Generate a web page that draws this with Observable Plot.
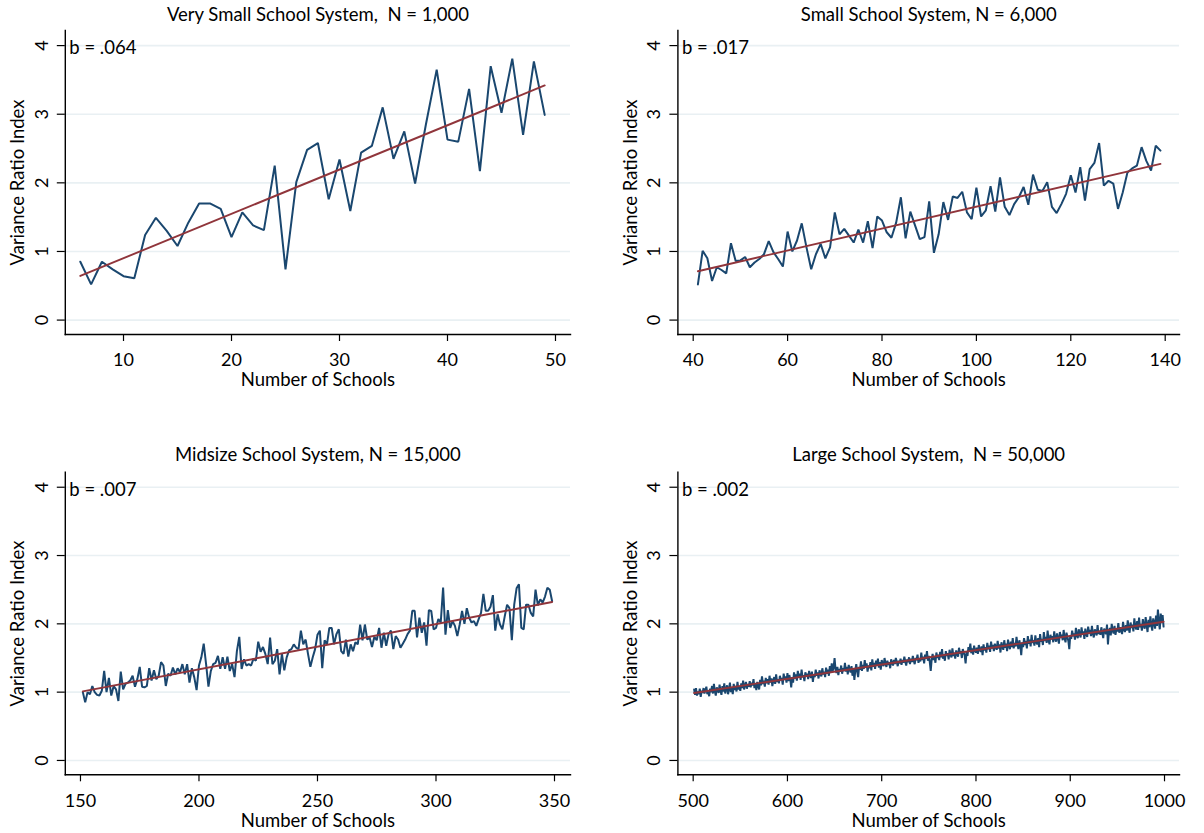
<!DOCTYPE html>
<html>
<head>
<meta charset="utf-8">
<script src="https://cdn.jsdelivr.net/npm/d3@7"></script>
<script src="https://cdn.jsdelivr.net/npm/@observablehq/plot@0.6"></script>
<style>
  html, body { margin: 0; padding: 0; background: #fff; }
  #wrap { position: relative; width: 1204px; height: 833px; overflow: hidden; font-family: Lato, "Open Sans", sans-serif; }
  #wrap > svg { position: absolute; }
</style>
</head>
<body>
<div id="wrap"></div>
<script>
// ---- Titles / labels ----
const titles = ["Very Small School System,  N = 1,000", "Small School System, N = 6,000", "Midsize School System, N = 15,000", "Large School System,  N = 50,000"];
const slopes = ["b = .064", "b = .017", "b = .007", "b = .002"];
const xLabel = "Number of Schools";
const yLabel = "Variance Ratio Index";
const yTicks = [0, 1, 2, 3, 4];
const xTicks1 = [10, 20, 30, 40, 50];
const xTicks2 = [40, 60, 80, 100, 120, 140];
const xTicks3 = [150, 200, 250, 300, 350];
const xTicks4 = [500, 600, 700, 800, 900, 1000];

// ---- Series values ----
const start1 = 6;
const vals1 = [0.85,0.52,0.85,0.74,0.64,0.61,1.24,1.49,1.30,1.08,1.42,1.70,1.70,1.62,1.21,1.57,1.38,1.31,2.25,0.74,2.01,2.48,2.58,1.76,2.34,1.59,2.44,2.54,3.10,2.35,2.75,1.99,2.85,3.65,2.63,2.60,3.37,2.17,3.70,3.02,3.81,2.70,3.77,2.99];

const start2 = 41;
const vals2 = [0.52,1.01,0.90,0.57,0.77,0.73,0.68,1.12,0.86,0.87,
  0.92,0.77,0.84,0.89,0.96,1.15,0.99,0.89,0.78,1.29,
  1.00,1.16,1.41,1.06,0.74,0.96,1.11,0.90,1.06,1.57,
  1.25,1.33,1.23,1.13,1.32,1.13,1.44,1.05,1.51,1.45,
  1.28,1.20,1.42,1.79,1.19,1.58,1.38,1.18,1.21,1.73,
  0.98,1.25,1.72,1.46,1.80,1.78,1.87,1.57,1.47,1.93,
  1.51,1.60,1.95,1.58,2.08,1.65,1.53,1.69,1.79,1.94,
  1.68,2.12,1.90,1.88,2.01,1.65,1.56,1.69,1.84,2.11,
  1.86,2.23,1.74,2.20,2.29,2.58,1.96,2.03,1.99,1.62,
  1.86,2.15,2.21,2.25,2.52,2.32,2.18,2.54,2.47];

const start3 = 151;
const vals3 = [1.00,0.85,1.00,0.97,1.09,1.00,0.96,0.95,1.02,1.31,
  1.00,1.21,0.95,1.09,1.04,0.87,1.30,1.04,1.12,1.14,
  1.17,1.24,1.08,1.19,1.37,1.08,1.07,1.09,1.35,1.17,
  1.32,1.19,1.24,1.44,1.39,1.09,1.27,1.24,1.36,1.26,
  1.35,1.29,1.41,1.26,1.41,1.14,1.35,1.22,1.03,1.39,
  1.51,1.71,1.41,1.08,1.31,1.41,1.43,1.53,1.34,1.51,
  1.34,1.52,1.31,1.41,1.22,1.60,1.81,1.34,1.48,1.39,
  1.41,1.39,1.49,1.46,1.74,1.59,1.66,1.56,1.41,1.80,
  1.41,1.46,1.63,1.26,1.56,1.32,1.51,1.61,1.63,1.70,
  1.65,1.63,1.90,1.70,1.77,1.56,1.37,1.51,1.63,1.84,
  1.90,1.35,1.76,1.70,1.94,1.94,1.70,1.85,1.92,1.60,
  1.56,1.77,1.52,1.70,1.60,1.73,1.70,1.99,1.76,1.99,
  1.77,1.80,1.66,1.81,1.76,1.94,1.65,1.87,1.68,1.85,
  1.90,1.63,1.82,1.77,1.65,1.71,1.77,1.85,1.90,2.19,
  2.19,1.80,2.09,1.87,2.02,1.68,2.20,2.19,1.92,1.94,
  2.07,2.02,2.53,1.84,2.20,1.94,2.04,1.97,1.82,1.99,
  2.19,2.00,2.23,2.09,2.02,2.04,1.97,2.07,2.16,2.44,
  2.19,2.19,2.25,2.42,1.90,2.14,1.99,1.92,2.11,2.28,
  2.23,1.76,2.28,2.52,2.58,1.94,1.92,2.28,2.28,2.16,
  2.11,2.50,2.27,2.36,2.31,2.40,2.53,2.50,2.33];

const start4 = 501;
const vals4 = [1.04,0.96,1.06,0.95,1.01,0.97,1.05,0.93,1.02,0.99,
  1.06,0.98,1.03,1.08,0.97,1.01,0.94,1.05,1.00,1.09,
  0.98,1.12,1.01,0.95,1.07,1.03,0.99,1.11,1.02,0.96,
  1.09,1.01,1.13,0.98,1.05,1.10,0.97,1.04,1.14,1.00,
  1.06,0.97,1.12,1.03,1.09,1.01,1.15,1.04,1.08,1.02,
  1.13,1.06,1.17,1.04,1.10,1.15,1.05,1.12,1.08,1.16,
  1.07,1.14,1.10,1.19,1.06,1.12,1.03,1.15,1.09,1.04,
  1.18,1.10,1.23,1.12,1.17,1.08,1.21,1.13,1.19,1.11,
  1.24,1.14,1.20,1.09,1.17,1.22,1.12,1.26,1.15,1.19,
  1.13,1.24,1.17,1.21,1.11,1.27,1.18,1.23,1.14,1.28,
  1.16,1.25,1.19,1.07,1.22,1.14,1.29,1.20,1.26,1.17,
  1.31,1.21,1.27,1.18,1.33,1.22,1.25,1.16,1.29,1.23,
  1.27,1.19,1.31,1.24,1.21,1.30,1.15,1.26,1.22,1.33,
  1.24,1.29,1.20,1.32,1.27,1.23,1.35,1.26,1.30,1.22,
  1.36,1.27,1.33,1.24,1.38,1.29,1.42,1.31,1.36,1.50,
  1.33,1.28,1.37,1.25,1.34,1.30,1.39,1.27,1.35,1.31,
  1.43,1.30,1.37,1.26,1.40,1.33,1.29,1.38,1.24,1.35,
  1.18,1.32,1.41,1.30,1.22,1.37,1.33,1.45,1.31,1.40,
  1.34,1.47,1.36,1.42,1.30,1.39,1.35,1.44,1.32,1.48,
  1.37,1.43,1.34,1.46,1.40,1.49,1.36,1.44,1.33,1.47,
  1.41,1.38,1.50,1.42,1.37,1.46,1.40,1.44,1.35,1.48,
  1.43,1.39,1.47,1.41,1.50,1.44,1.38,1.46,1.42,1.49,
  1.40,1.47,1.43,1.52,1.45,1.39,1.48,1.44,1.51,1.41,
  1.49,1.44,1.53,1.46,1.41,1.50,1.47,1.55,1.43,1.49,
  1.45,1.58,1.47,1.52,1.42,1.55,1.49,1.60,1.46,1.53,
  1.44,1.31,1.48,1.56,1.47,1.52,1.43,1.58,1.50,1.55,
  1.47,1.59,1.51,1.63,1.49,1.55,1.46,1.60,1.53,1.57,
  1.48,1.62,1.55,1.51,1.64,1.53,1.58,1.49,1.61,1.56,
  1.52,1.65,1.57,1.60,1.50,1.63,1.58,1.54,1.42,1.59,
  1.53,1.66,1.60,1.71,1.57,1.64,1.55,1.68,1.61,1.58,
  1.65,1.56,1.69,1.62,1.59,1.67,1.54,1.70,1.61,1.66,
  1.58,1.72,1.63,1.68,1.59,1.74,1.64,1.69,1.60,1.71,
  1.66,1.62,1.75,1.64,1.70,1.58,1.73,1.67,1.62,1.76,
  1.65,1.71,1.60,1.77,1.68,1.63,1.74,1.66,1.79,1.64,
  1.72,1.67,1.81,1.70,1.63,1.76,1.69,1.54,1.73,1.66,
  1.79,1.69,1.75,1.64,1.82,1.71,1.77,1.67,1.84,1.72,
  1.76,1.68,1.83,1.73,1.70,1.79,1.66,1.85,1.74,1.78,
  1.69,1.88,1.75,1.81,1.72,1.90,1.76,1.70,1.84,1.77,
  1.82,1.73,1.89,1.78,1.74,1.86,1.79,1.71,1.88,1.80,
  1.84,1.76,1.91,1.79,1.73,1.87,1.81,1.75,1.63,1.83,
  1.78,1.90,1.82,1.86,1.77,1.94,1.83,1.79,1.92,1.85,
  1.80,1.95,1.84,1.89,1.78,1.93,1.85,1.81,1.96,1.87,
  1.91,1.82,1.97,1.86,1.80,1.92,1.88,1.83,1.98,1.85,
  1.90,1.84,1.95,1.87,1.79,1.93,1.89,1.85,1.99,1.70,
  1.88,1.94,1.83,2.00,1.90,1.86,1.97,1.84,1.93,1.89,
  2.01,1.87,1.95,1.91,1.85,2.03,1.92,1.88,1.98,1.90,
  2.05,1.93,1.87,2.02,1.94,1.99,1.89,2.08,1.96,1.92,
  2.04,1.91,2.09,1.95,2.00,1.90,2.07,1.97,1.93,2.10,
  1.98,1.88,2.06,1.95,2.11,1.99,1.90,2.08,2.02,1.93,
  2.12,1.97,2.21,2.03,1.92,2.15,2.01,2.13,1.96];

const toRows = (start, vals) => vals.map((v, i) => ({schools: start + i, vri: v}));

const panels = [
  {title: titles[0], slope: slopes[0], rows: toRows(start1, vals1), xDomain: [4.61, 51.39], xTicks: xTicks1,
   left: 0, top: 0, width: 602, height: 416, mL: 64.8, mR: 32, mT: 30, mB: 82, tDy: -15},
  {title: titles[1], slope: slopes[1], rows: toRows(start2, vals2), xDomain: [36.76, 143.03], xTicks: xTicks2,
   left: 602, top: 0, width: 602, height: 416, mL: 75.4, mR: 25, mT: 30, mB: 82, tDy: -15},
  {title: titles[2], slope: slopes[2], rows: toRows(start3, vals3), xDomain: [143.6, 356.75], xTicks: xTicks3,
   left: 0, top: 416, width: 602, height: 417, mL: 64.8, mR: 32, mT: 55.7, mB: 58.7, tDy: -16.7},
  {title: titles[3], slope: slopes[3], rows: toRows(start4, vals4), xDomain: [483.8, 1015.9], xTicks: xTicks4,
   left: 602, top: 416, width: 602, height: 417, mL: 75.4, mR: 25, mT: 55.7, mB: 58.7, tDy: -16.7}
];

const NAVY = "#1a476f", MAROON = "#90353b", GRID = "#e9f0f3";
const FONT = "Lato, 'Open Sans', sans-serif";
const wrap = document.getElementById("wrap");

for (const p of panels) {
  const chart = Plot.plot({
    width: p.width, height: p.height,
    marginLeft: p.mL, marginRight: p.mR, marginTop: p.mT, marginBottom: p.mB,
    style: {fontFamily: FONT, fontSize: "18px", background: "transparent", color: "#000", overflow: "visible"},
    x: {domain: p.xDomain},
    y: {domain: [-0.21, 4.22]},
    marks: [
      Plot.gridY(yTicks, {stroke: GRID, strokeOpacity: 1, strokeWidth: 1.6}),
      Plot.axisY(yTicks, {anchor: "left", tickRotate: -90, tickSize: 8, tickPadding: 9.5, tickFormat: d => String(d),
        label: null, fontSize: 18, stroke: "#000", strokeWidth: 1.2, fill: "#000"}),
      Plot.axisX(p.xTicks, {anchor: "bottom", tickSize: 7, tickPadding: 12, tickFormat: d => String(d),
        label: null, fontSize: 18, stroke: "#000", strokeWidth: 1.2, fill: "#000"}),
      Plot.frame({anchor: "left", stroke: "#000", strokeWidth: 1.4}),
      Plot.frame({anchor: "bottom", stroke: "#000", strokeWidth: 1.4}),
      Plot.line(p.rows, {x: "schools", y: "vri", stroke: NAVY, strokeWidth: 2, strokeLinejoin: "miter"}),
      Plot.linearRegressionY(p.rows, {x: "schools", y: "vri", stroke: MAROON, strokeWidth: 1.9, ci: 0}),
      Plot.text([p.slope], {frameAnchor: "top-left", text: d => d, dx: 4, dy: 18, textAnchor: "start", lineAnchor: "middle", fontSize: 18.5, fill: "#000"}),
      Plot.text([p.title], {frameAnchor: "top", text: d => d, dy: p.tDy, lineAnchor: "middle", fontSize: 18.5, fill: "#000"}),
      Plot.text([xLabel], {frameAnchor: "bottom", text: d => d, dy: 46, lineAnchor: "middle", fontSize: 18.5, fill: "#000"}),
      Plot.text([yLabel], {frameAnchor: "left", text: d => d, dx: -47, rotate: -90, lineAnchor: "middle", textAnchor: "middle", fontSize: 18.5, fill: "#000"})
    ]
  });
  chart.style.left = p.left + "px";
  chart.style.top = p.top + "px";
  wrap.appendChild(chart);
}
</script>
</body>
</html>
